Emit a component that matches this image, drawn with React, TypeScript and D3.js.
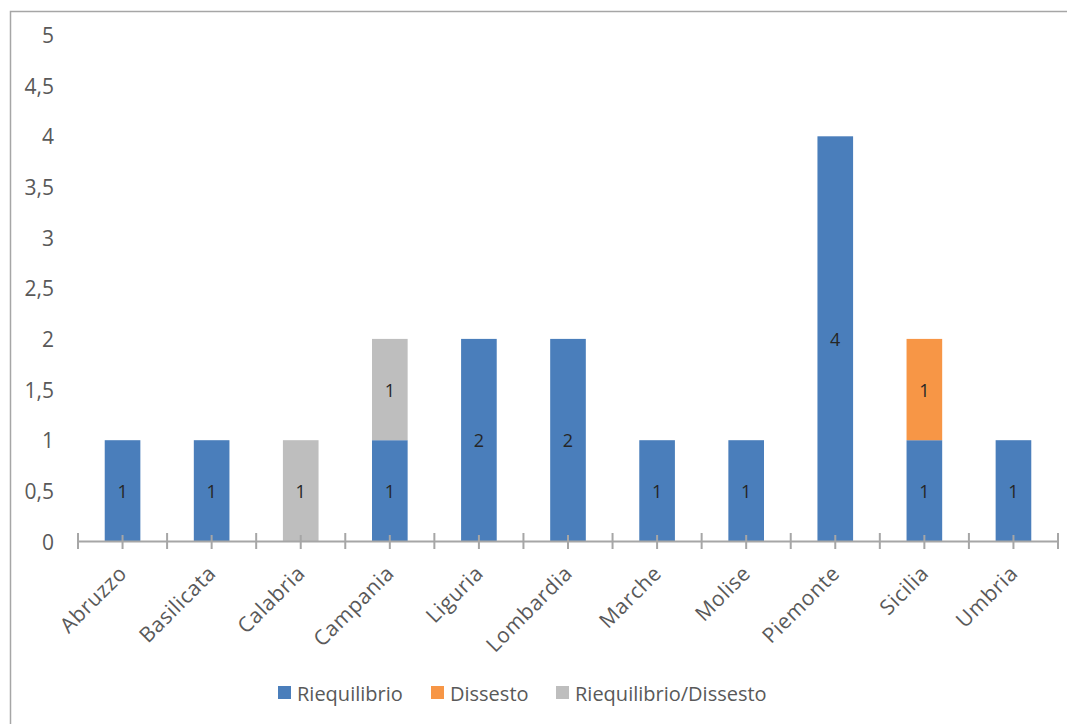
import React, { useEffect } from "react";
import * as d3 from "d3";

const categories = ["Abruzzo", "Basilicata", "Calabria", "Campania", "Liguria", "Lombardia", "Marche", "Molise", "Piemonte", "Sicilia", "Umbria"];
const riequilibrio = [1, 1, 0, 1, 2, 2, 1, 1, 4, 1, 1];
const dissesto = [0, 0, 0, 0, 0, 0, 0, 0, 0, 1, 0];
const riequilibrioDissesto = [0, 0, 1, 1, 0, 0, 0, 0, 0, 0, 0];
const seriesNames = ["Riequilibrio", "Dissesto", "Riequilibrio/Dissesto"];
const seriesColors = ["#4A7EBB", "#F79646", "#BEBEBE"];
const yTicks = [0, 0.5, 1, 1.5, 2, 2.5, 3, 3.5, 4, 4.5, 5];

const W = 1067;
const H = 724;
const FONT = "'Open Sans', 'Liberation Sans', sans-serif";

export default function App() {
  useEffect(() => {
    document.body.style.margin = "0";
    document.body.style.overflow = "hidden";
  }, []);
  const x = d3.scaleBand<string>().domain(categories).range([78, 1058]).paddingInner(0).paddingOuter(0);
  const y = d3.scaleLinear().domain([0, 5]).range([541.5, 35]);
  const bw = x.bandwidth() * 0.4;
  const rows = categories.map((c, i) => ({ cat: c, v: [riequilibrio[i], dissesto[i], riequilibrioDissesto[i]] }));
  const keys = [0, 1, 2];
  const stack = d3.stack<any, number>().keys(keys as any).value((d: any, k: any) => d.v[k]);
  const stacked = stack(rows as any);
  const fmt = (v: number) => String(v).replace(".", ",");
  const halfTicks: number[] = [];
  for (let i = 0; i <= categories.length * 2; i++) halfTicks.push(78 + (i * x.bandwidth()) / 2);
  const legendX = [278, 431, 556];

  return (
    <svg width={W} height={H} style={{ position: "absolute", left: 0, top: 0, background: "#fff", display: "block" }}>
      <rect x={0} y={0} width={W} height={H} fill="#fff" />
      <path d={`M10.5,${H + 2}V11.5H${W + 2}`} fill="none" stroke="#A6A6A6" strokeWidth={1.5} />
      {yTicks.map((t) => (
        <text key={t} x={54} y={y(t)} textAnchor="end" dominantBaseline="central" fontFamily={FONT} fontSize={21} fill="#595959">
          {fmt(t)}
        </text>
      ))}
      {stacked.map((s: any, si: number) =>
        s.map((d: any, i: number) => {
          const v = d[1] - d[0];
          if (v <= 0) return null;
          const cx = (x(categories[i]) as number) + x.bandwidth() / 2;
          return (
            <g key={`${si}-${i}`}>
              <rect x={cx - bw / 2} y={y(d[1])} width={bw} height={y(d[0]) - y(d[1])} fill={seriesColors[si]} />
              <text x={cx} y={(y(d[0]) + y(d[1])) / 2} textAnchor="middle" dominantBaseline="central" fontFamily={FONT} fontSize={18} fill="#262626">
                {v}
              </text>
            </g>
          );
        })
      )}
      <line x1={78} x2={1058} y1={541.5} y2={541.5} stroke="#A6A6A6" strokeWidth={2} />
      {halfTicks.map((t, i) => (
        <line key={i} x1={t} x2={t} y1={i % 2 === 0 ? 533 : 535} y2={549} stroke="#A6A6A6" strokeWidth={2} />
      ))}
      {categories.map((c) => {
        const cx = (x(c) as number) + x.bandwidth() / 2;
        return (
          <text key={c} transform={`translate(${cx},${569}) rotate(-45)`} textAnchor="end" dominantBaseline="central" fontFamily={FONT} fontSize={21} letterSpacing={0.6} fill="#595959">
            {c}
          </text>
        );
      })}
      {seriesNames.map((n, i) => (
        <g key={n}>
          <rect x={legendX[i]} y={686} width={13} height={13} fill={seriesColors[i]} />
          <text x={legendX[i] + 19} y={693} dominantBaseline="central" fontFamily={FONT} fontSize={20} fill="#595959">
            {n}
          </text>
        </g>
      ))}
    </svg>
  );
}
